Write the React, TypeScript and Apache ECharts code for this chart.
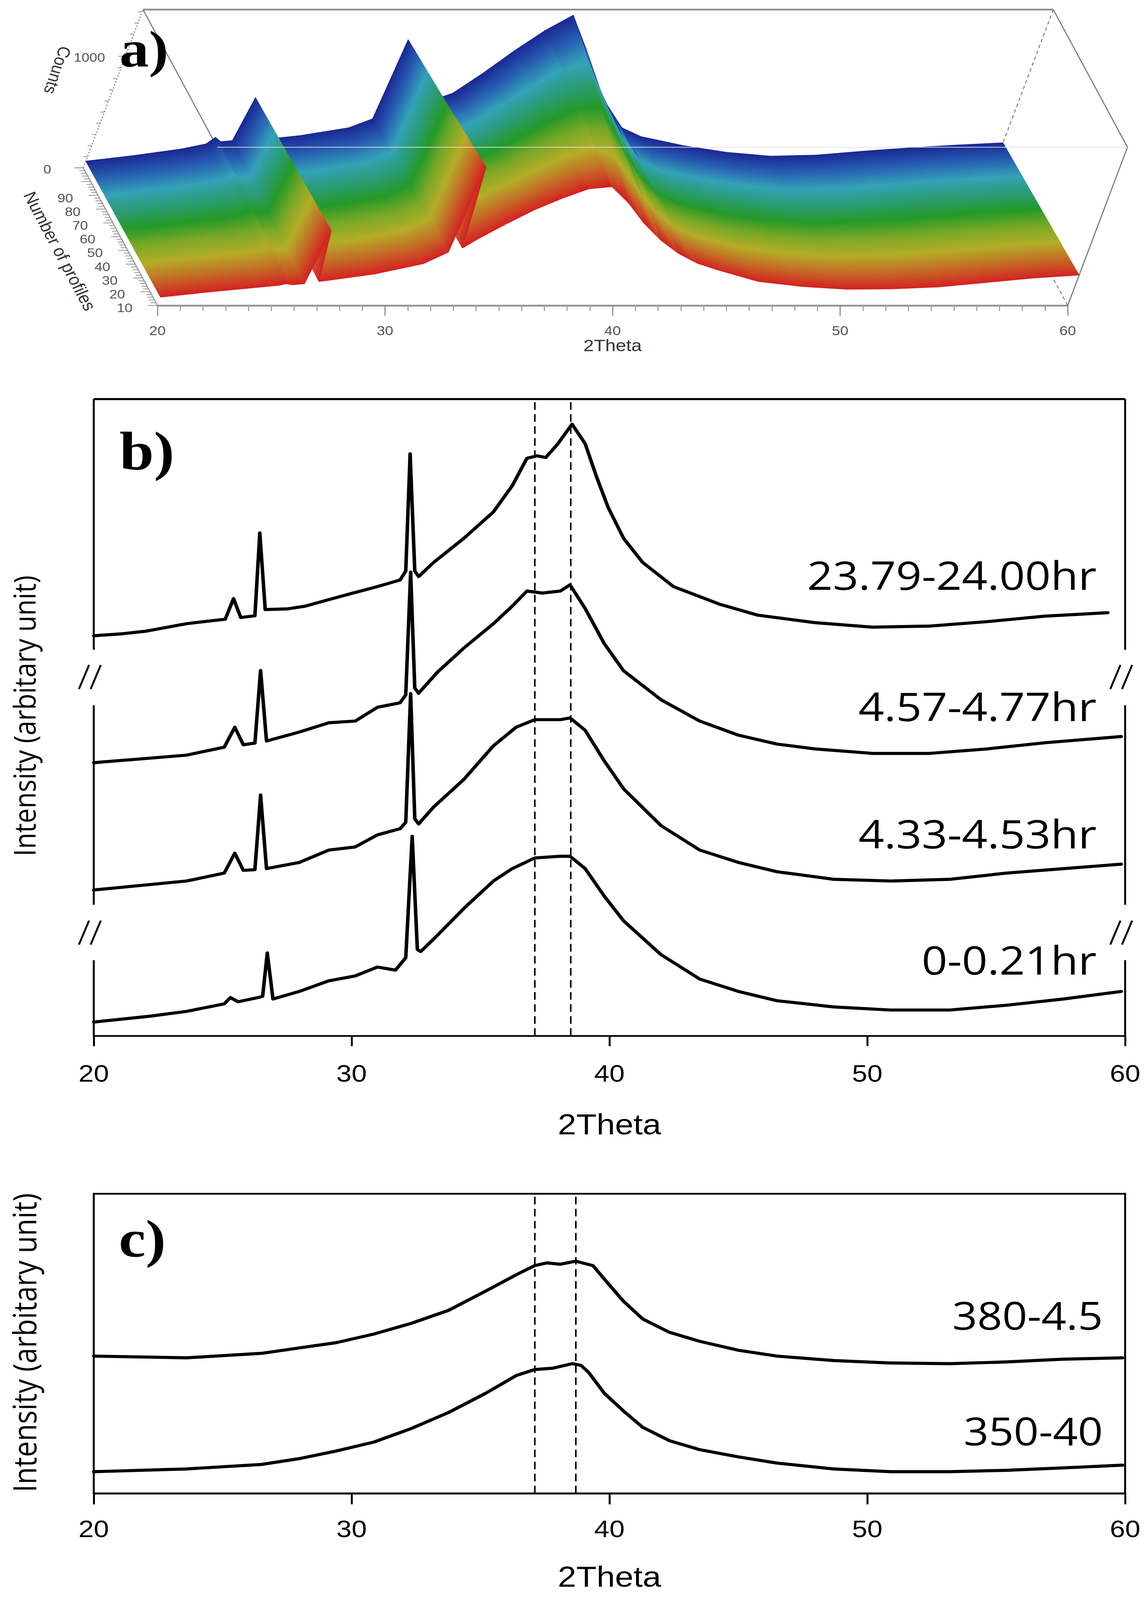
import React, { useEffect, useRef } from "react";
import * as echarts from "echarts";

const PAGE_W = 2936;
const PAGE_H = 4651;

/* ---------------- Panel a : stacked profiles (3-D view) ---------------- */
const aTheta = [20, 22, 24, 25, 25.3, 25.6, 26.1, 26.4, 26.7, 27, 29, 31, 31.9, 32.15, 32.45, 33, 34, 35, 36, 37, 38, 39, 40, 41, 42, 43, 44, 46, 48, 50, 52, 54, 56, 58, 60];
const aProfiles = [110, 85, 60, 35, 10];
const aCountsP110 = [60, 110, 170, 215, 275, 235, 245, 630, 245, 245, 290, 360, 440, 1150, 470, 510, 590, 670, 850, 1050, 1230, 1370, 1100, 800, 560, 360, 280, 200, 140, 105, 115, 150, 180, 205, 225];
const aCountsP85 = [64, 112, 166, 207, 255, 222, 232, 640, 236, 238, 288, 364, 452, 1170, 482, 535, 630, 720, 880, 1050, 1200, 1260, 1020, 760, 540, 365, 290, 205, 148, 115, 125, 155, 186, 215, 236];
const aCountsP60 = [67, 115, 163, 198, 235, 210, 220, 650, 228, 232, 285, 368, 462, 1190, 492, 560, 670, 770, 910, 1045, 1150, 1150, 940, 710, 520, 372, 300, 208, 155, 125, 133, 158, 192, 225, 248];
const aCountsP35 = [70, 118, 161, 190, 215, 198, 208, 660, 222, 227, 283, 372, 470, 1215, 505, 580, 705, 815, 935, 1045, 1105, 1030, 840, 650, 495, 376, 310, 212, 162, 135, 140, 162, 198, 235, 260];
const aCountsP10 = [74, 120, 160, 180, 195, 185, 195, 670, 215, 222, 281, 375, 478, 1240, 515, 600, 735, 860, 960, 1045, 1065, 920, 740, 590, 470, 380, 320, 215, 170, 145, 148, 165, 205, 245, 272];
const aCounts = [aCountsP110, aCountsP85, aCountsP60, aCountsP35, aCountsP10];
const aProfileLabels = [10, 20, 30, 40, 50, 60, 70, 80, 90];
const aCountLabels = [0, 1000];
const A_T_MIN = 20;
const A_T_MAX = 60;
const A_P_MIN = 10;
const A_P_MAX = 110;
const A_C_MAX = 1420;

/* ---------------- Panel b ---------------- */
const bTheta24h = [20, 21, 22, 23.6, 24.5, 25.1, 25.42, 25.7, 26.25, 26.44, 26.65, 27.5, 28.2, 29.12, 30.0, 30.86, 31.88, 32.1, 32.27, 32.45, 32.6, 33.18, 34.35, 35.5, 36.23, 36.8, 37.2, 37.53, 38.0, 38.55, 39.06, 39.5, 39.95, 40.55, 41.29, 42.48, 44.26, 45.74, 47.97, 50.2, 52.42, 54.65, 56.9, 59.33];
const bInt24h = [1163, 1168, 1176, 1198, 1206, 1211, 1271, 1216, 1221, 1462, 1239, 1241, 1249, 1268, 1286, 1303, 1325, 1351, 1692, 1351, 1335, 1376, 1446, 1523, 1599, 1679, 1686, 1681, 1721, 1778, 1721, 1625, 1536, 1446, 1376, 1306, 1255, 1223, 1201, 1188, 1191, 1204, 1220, 1230];
const bTheta457 = [20, 22, 23.6, 25.06, 25.47, 25.8, 26.25, 26.47, 26.7, 27.97, 29.12, 30.14, 31.0, 31.88, 32.1, 32.29, 32.45, 32.6, 33.33, 34.35, 35.5, 36.23, 36.8, 37.4, 38.1, 38.47, 39.06, 39.8, 40.55, 42.0, 43.5, 45.0, 46.5, 47.97, 50.2, 52.42, 54.65, 56.9, 59.85];
const bInt457 = [794, 806, 816, 839, 897, 846, 851, 1062, 857, 883, 910, 915, 955, 968, 991, 1348, 1011, 996, 1057, 1127, 1198, 1249, 1293, 1287, 1293, 1311, 1242, 1140, 1061, 977, 915, 874, 848, 834, 821, 821, 834, 852, 870];
const bTheta433 = [20, 23.6, 25.06, 25.47, 25.8, 26.25, 26.47, 26.7, 27.97, 29.12, 30.14, 31.0, 31.88, 32.1, 32.29, 32.45, 32.6, 33.18, 34.35, 35.5, 36.38, 37.1, 38.1, 38.47, 39.06, 39.8, 40.55, 42.0, 43.5, 45.0, 46.5, 48.7, 50.9, 53.2, 55.4, 57.6, 59.85];
const bInt433 = [424, 450, 473, 531, 481, 483, 700, 486, 504, 540, 549, 584, 602, 621, 995, 631, 616, 665, 745, 843, 897, 919, 919, 924, 888, 799, 718, 611, 540, 504, 477, 455, 450, 455, 473, 486, 499];
const bTheta021 = [20, 22.17, 23.6, 25.06, 25.3, 25.6, 26.36, 26.55, 26.73, 26.95, 27.97, 29.12, 30.14, 31.0, 31.7, 32.1, 32.35, 32.55, 32.68, 33.18, 33.76, 34.35, 35.5, 36.23, 37.1, 38.1, 38.47, 39.06, 39.8, 40.55, 42.0, 43.5, 45.0, 46.5, 48.7, 50.9, 53.2, 55.4, 57.6, 59.85];
const bInt021 = [40, 57, 71, 93, 111, 99, 111, 115, 241, 107, 129, 160, 174, 200, 191, 227, 580, 251, 245, 281, 325, 370, 450, 486, 517, 522, 522, 486, 406, 334, 236, 165, 129, 102, 84, 75, 75, 89, 107, 129];
const bLabels = ["23.79-24.00hr", "4.57-4.77hr", "4.33-4.53hr", "0-0.21hr"];
const bDashed = [37.1, 38.5];
const B_Y_MAX = 1851;
const bAxisSegments = [[1122, 1851], [381, 961], [0, 220]];
const bBreaks = [1043, 300];

/* ---------------- Panel c ---------------- */
const cTheta380 = [20, 23.6, 26.5, 29.4, 30.86, 32.3, 33.76, 35.2, 36.4, 37.1, 37.58, 38.1, 38.69, 39.36, 39.95, 40.55, 41.29, 42.33, 43.5, 45.0, 46.5, 48.7, 50.9, 53.2, 55.4, 57.6, 59.9];
const cInt380 = [399, 394, 407, 438, 463, 494, 532, 588, 636, 662, 670, 666, 675, 662, 610, 558, 507, 468, 442, 416, 399, 386, 379, 377, 382, 390, 394];
const cTheta350 = [20, 23.6, 26.5, 27.97, 29.4, 30.86, 32.3, 33.76, 35.2, 36.4, 37.1, 37.82, 38.55, 38.9, 39.2, 39.8, 40.55, 41.29, 42.33, 43.5, 45.0, 46.5, 48.7, 50.9, 53.2, 55.4, 57.6, 59.9];
const cInt350 = [63, 71, 84, 101, 123, 149, 188, 235, 291, 343, 360, 364, 377, 372, 351, 291, 239, 192, 153, 127, 106, 88, 71, 63, 63, 67, 74, 82];
const cLabels = ["380-4.5", "350-40"];
const cDashed = [37.1, 38.7];
const C_Y_MAX = 871;

/* ---------------- helpers ---------------- */
const zip = (xs: number[], ys: number[]) => xs.map((x, i) => [x, ys[i]]);

// oblique projection of (2theta, profile, counts) onto panel a's axes
const A_KX = 0.00185;
const A_PX = -0.0326;
const A_PY = 12.35;
const projA = (api: any, t: number, p: number, c: number) =>
  api.coord([t + c * A_KX + (p - A_P_MIN) * A_PX, c + (p - A_P_MIN) * A_PY]);

const stripStops = [
  [
    { offset: 0, color: "#1a2894" },
    { offset: 0.5, color: "#275fb2" },
    { offset: 1, color: "#33a2b8" },
  ],
  [
    { offset: 0, color: "#33a2b8" },
    { offset: 0.5, color: "#2a9c74" },
    { offset: 1, color: "#249a28" },
  ],
  [
    { offset: 0, color: "#249a28" },
    { offset: 0.5, color: "#7aa826" },
    { offset: 1, color: "#b4ad28" },
  ],
  [
    { offset: 0, color: "#b4ad28" },
    { offset: 0.5, color: "#c46c26" },
    { offset: 1, color: "#d42222" },
  ],
];

const aBoxEdges = [
  [A_T_MIN, A_P_MAX, A_C_MAX, A_T_MAX, A_P_MAX, A_C_MAX, 0],
  [A_T_MIN, A_P_MAX, A_C_MAX, A_T_MIN, A_P_MIN, A_C_MAX, 1],
  [A_T_MAX, A_P_MAX, A_C_MAX, A_T_MAX, A_P_MIN, A_C_MAX, 1],
  [A_T_MAX, A_P_MIN, A_C_MAX, A_T_MAX, A_P_MIN, 0, 1],
  [A_T_MAX, A_P_MAX, A_C_MAX, A_T_MAX, A_P_MAX, 0, 2],
  [A_T_MAX, A_P_MAX, 0, A_T_MAX, A_P_MIN, 0, 2],
  [A_T_MIN, A_P_MAX, 0, A_T_MIN, A_P_MAX, A_C_MAX, 3],
  [A_T_MIN, A_P_MAX, 0, A_T_MIN, A_P_MIN, 0, 5],
];
const aFrontEdges = [[A_T_MIN, A_P_MIN, A_C_MAX, A_T_MAX, A_P_MIN, A_C_MAX, 4]];
const aEdgeStyles: any[] = [
  { color: "#8c8c8c", width: 5, dash: null },
  { color: "#7c7c7c", width: 3, dash: null },
  { color: "#7c7c7c", width: 2.5, dash: [10, 8] },
  { color: "#8a8a8a", width: 3, dash: [4, 5] },
  { color: "#e2e2e2", width: 2, dash: null },
  { color: "#9a9a9a", width: 3, dash: null },
];

const edgeRender = (edges: number[][]) => (params: any, api: any) => {
  const e = edges[api.value(0)];
  const p1 = projA(api, e[0], e[1], e[2]);
  const p2 = projA(api, e[3], e[4], e[5]);
  const st = aEdgeStyles[e[6]];
  return {
    type: "line",
    shape: { x1: p1[0], y1: p1[1], x2: p2[0], y2: p2[1] },
    style: { stroke: st.color, lineWidth: st.width, lineDash: st.dash },
  };
};

function buildOption() {
  const surfaceItems: number[][] = [];
  for (let k = 0; k < aProfiles.length - 1; k++) {
    for (let j = aTheta.length - 2; j >= 0; j--) surfaceItems.push([k, j]);
  }
  const aTickItems: number[][] = [];
  for (let c = 0; c <= 1400; c += 100) aTickItems.push([0, c, c % 1000 === 0 ? 1 : 0]);
  for (let p = A_P_MIN; p <= A_P_MAX; p += 2) aTickItems.push([1, p, p % 10 === 0 ? 1 : 0]);
  const aLabelItems: number[][] = [
    ...aProfileLabels.map((p) => [1, p]),
    ...aCountLabels.map((c) => [0, c]),
  ];

  const bFrameItems: number[][] = [
    ...bAxisSegments.map((s) => [0, s[0], s[1]]),
    ...bAxisSegments.map((s) => [1, s[0], s[1]]),
    [2, B_Y_MAX, B_Y_MAX],
    ...bBreaks.map((v) => [3, v, 0]),
    ...bBreaks.map((v) => [4, v, 0]),
  ];

  const curveStyle = { color: "#000", width: 9, join: "round", cap: "round" };
  const lineSeries = (xi: number, data: number[][], extra: any = {}) => ({
    type: "line",
    xAxisIndex: xi,
    yAxisIndex: xi,
    data,
    showSymbol: false,
    symbol: "none",
    silent: true,
    z: 4,
    lineStyle: curveStyle,
    ...extra,
  });
  const dashedMark = (vals: number[]) => ({
    markLine: {
      silent: true,
      symbol: ["none", "none"],
      label: { show: false },
      lineStyle: { type: [22, 13], color: "#000", width: 4 },
      data: vals.map((v) => ({ xAxis: v })),
    },
  });

  const labelFont = '"Liberation Sans", Arial, sans-serif';
  const openSans = '"Open Sans", "Noto Sans", sans-serif';
  const serif = '"Liberation Serif", "Times New Roman", serif';

  const txt = (text: string, x: number, y: number, size: number, family: string, opts: any = {}) => ({
    type: "text",
    x,
    y,
    rotation: opts.rotation || 0,
    z: 100,
    silent: true,
    style: {
      text,
      fill: opts.fill || "#000",
      fontSize: size,
      fontFamily: family,
      fontWeight: opts.weight || "normal",
      align: opts.align || "left",
      verticalAlign: "middle",
      textAlign: opts.align || "left",
      textVerticalAlign: "middle",
    },
  });

  const bLabelY = [1670, 2051, 2422, 2788];
  const cLabelY = [3822, 4158];

  return {
    animation: false,
    backgroundColor: "#ffffff",
    grid: [
      { left: 403, right: PAGE_W - 2733, top: 888 - 2700 * 0.324, bottom: PAGE_H - 888, outerBoundsMode: "none" },
      { left: 240, right: 56, top: 1160, bottom: PAGE_H - 3011, outerBoundsMode: "none" },
      {
        left: 240,
        right: 56,
        top: 3470,
        bottom: PAGE_H - 4341,
        show: true,
        borderColor: "#000",
        borderWidth: 5,
        backgroundColor: "transparent",
        outerBoundsMode: "none",
      },
    ],
    xAxis: [
      {
        gridIndex: 0,
        type: "value",
        min: A_T_MIN,
        max: A_T_MAX,
        interval: 10,
        axisLine: { lineStyle: { color: "#8e8e8e", width: 5 } },
        axisTick: { show: true, inside: false, length: 30, lineStyle: { color: "#8e8e8e", width: 3 } },
        minorTick: { show: true, splitNumber: 10, length: 16, lineStyle: { color: "#a2a2a2", width: 3 } },
        splitLine: { show: false },
        minorSplitLine: { show: false },
        axisLabel: { fontSize: 38, color: "#555", fontFamily: labelFont, margin: 54 },
        name: "2Theta",
        nameLocation: "middle",
        nameGap: 90,
        nameTextStyle: { fontSize: 48, color: "#333", fontFamily: labelFont },
      },
      {
        gridIndex: 1,
        type: "value",
        min: 20,
        max: 60,
        interval: 10,
        axisLine: { onZero: false, lineStyle: { color: "#000", width: 5 } },
        axisTick: { show: true, inside: false, length: 30, lineStyle: { color: "#000", width: 5 } },
        splitLine: { show: false },
        axisLabel: { fontSize: 70, color: "#000", fontFamily: labelFont, margin: 74 },
        name: "2Theta",
        nameLocation: "middle",
        nameGap: 215,
        nameTextStyle: { fontSize: 85, color: "#000", fontFamily: labelFont },
      },
      {
        gridIndex: 2,
        type: "value",
        min: 20,
        max: 60,
        interval: 10,
        axisLine: { onZero: false, lineStyle: { color: "#000", width: 5 } },
        axisTick: { show: true, inside: false, length: 32, lineStyle: { color: "#000", width: 5 } },
        splitLine: { show: false },
        axisLabel: { fontSize: 70, color: "#000", fontFamily: labelFont, margin: 68 },
        name: "2Theta",
        nameLocation: "middle",
        nameGap: 200,
        nameTextStyle: { fontSize: 85, color: "#000", fontFamily: labelFont },
      },
    ],
    yAxis: [
      { gridIndex: 0, type: "value", min: 0, max: 2700, show: false },
      { gridIndex: 1, type: "value", min: 0, max: B_Y_MAX, show: false },
      { gridIndex: 2, type: "value", min: 0, max: C_Y_MAX, show: false },
    ],
    series: [
      {
        type: "custom",
        name: "a-box",
        xAxisIndex: 0,
        yAxisIndex: 0,
        z: 1,
        silent: true,
        data: aBoxEdges.map((_, i) => [i, 0]),
        renderItem: edgeRender(aBoxEdges),
      },
      {
        type: "custom",
        name: "a-ticks",
        xAxisIndex: 0,
        yAxisIndex: 0,
        z: 1,
        silent: true,
        data: aTickItems,
        renderItem: (params: any, api: any) => {
          const kind = api.value(0);
          const v = api.value(1);
          const major = api.value(2) === 1;
          const base = kind === 0 ? projA(api, A_T_MIN, A_P_MAX, v) : projA(api, A_T_MIN, v, 0);
          const len = kind === 0 ? (major ? 18 : 10) : major ? 24 : 14;
          return {
            type: "line",
            shape: { x1: base[0], y1: base[1], x2: base[0] - len, y2: base[1] },
            style: { stroke: "#9a9a9a", lineWidth: 2.5 },
          };
        },
      },
      {
        type: "custom",
        name: "a-labels",
        xAxisIndex: 0,
        yAxisIndex: 0,
        z: 1,
        silent: true,
        data: aLabelItems,
        renderItem: (params: any, api: any) => {
          const kind = api.value(0);
          const v = api.value(1);
          const base = kind === 0 ? projA(api, A_T_MIN, A_P_MAX, v) : projA(api, A_T_MIN, v, 0);
          const off = kind === 0 ? [-92, 3] : [-84, 7];
          return {
            type: "text",
            x: base[0] + off[0],
            y: base[1] + off[1],
            style: {
              text: String(v),
              fill: "#555",
              fontSize: 36,
              fontFamily: labelFont,
              align: "center",
              verticalAlign: "middle",
              textAlign: "center",
              textVerticalAlign: "middle",
            },
          };
        },
      },
      {
        type: "custom",
        name: "a-surface",
        xAxisIndex: 0,
        yAxisIndex: 0,
        z: 2,
        silent: true,
        data: surfaceItems,
        renderItem: (params: any, api: any) => {
          const k = api.value(0);
          const j = api.value(1);
          const pB = aProfiles[k];
          const pF = aProfiles[k + 1];
          const A = projA(api, aTheta[j], pB, aCounts[k][j]);
          const B = projA(api, aTheta[j + 1], pB, aCounts[k][j + 1]);
          const C = projA(api, aTheta[j + 1], pF, aCounts[k + 1][j + 1]);
          const D = projA(api, aTheta[j], pF, aCounts[k + 1][j]);
          let ux = B[0] - A[0];
          let uy = B[1] - A[1];
          const len = Math.hypot(ux, uy) || 1;
          ux /= len;
          uy /= len;
          let nx = -uy;
          let ny = ux;
          const mx = (C[0] + D[0]) / 2 - (A[0] + B[0]) / 2;
          const my = (C[1] + D[1]) / 2 - (A[1] + B[1]) / 2;
          let d = mx * nx + my * ny;
          if (d < 0) {
            nx = -nx;
            ny = -ny;
            d = -d;
          }
          if (d < 1) d = 1;
          const sx = (A[0] + B[0]) / 2;
          const sy = (A[1] + B[1]) / 2;
          const grad = new echarts.graphic.LinearGradient(sx, sy, sx + nx * d, sy + ny * d, stripStops[k], true);
          return {
            type: "polygon",
            z2: params.dataIndex,
            shape: { points: [A, B, C, D] },
            style: { fill: grad, stroke: grad, lineWidth: 1.5, lineJoin: "round" },
          };
        },
      },
      {
        type: "custom",
        name: "a-front",
        xAxisIndex: 0,
        yAxisIndex: 0,
        z: 3,
        silent: true,
        data: aFrontEdges.map((_, i) => [i, 0]),
        renderItem: edgeRender(aFrontEdges),
      },
      lineSeries(1, zip(bTheta24h, bInt24h), dashedMark(bDashed)),
      lineSeries(1, zip(bTheta457, bInt457)),
      lineSeries(1, zip(bTheta433, bInt433)),
      lineSeries(1, zip(bTheta021, bInt021)),
      {
        type: "custom",
        name: "b-frame",
        xAxisIndex: 1,
        yAxisIndex: 1,
        z: 5,
        silent: true,
        data: bFrameItems,
        renderItem: (params: any, api: any) => {
          const kind = api.value(0);
          const v1 = api.value(1);
          const v2 = api.value(2);
          const st = { stroke: "#000", lineWidth: 5 };
          if (kind <= 1) {
            const x = kind === 0 ? 20 : 60;
            const p1 = api.coord([x, v1]);
            const p2 = api.coord([x, v2]);
            return { type: "line", shape: { x1: p1[0], y1: p1[1], x2: p2[0], y2: p2[1] }, style: st };
          }
          if (kind === 2) {
            const p1 = api.coord([20, v1]);
            const p2 = api.coord([60, v1]);
            return { type: "line", shape: { x1: p1[0], y1: p1[1], x2: p2[0], y2: p2[1] }, style: { stroke: "#000", lineWidth: 6 } };
          }
          const c = api.coord([kind === 3 ? 20 : 60, v1]);
          const cx = c[0] - 9;
          const cy = c[1];
          return {
            type: "group",
            children: [
              { type: "line", shape: { x1: cx - 29, y1: cy + 35, x2: cx - 3, y2: cy - 35 }, style: st },
              { type: "line", shape: { x1: cx + 1, y1: cy + 35, x2: cx + 27, y2: cy - 35 }, style: st },
            ],
          };
        },
      },
      lineSeries(2, zip(cTheta380, cInt380), dashedMark(cDashed)),
      lineSeries(2, zip(cTheta350, cInt350)),
    ],
    graphic: [
      txt("a)", 306, 143, 150, serif, { weight: "bold" }),
      txt("b)", 306, 1311, 158, serif, { weight: "bold" }),
      txt("c)", 304, 3601, 155, serif, { weight: "bold" }),
      txt("Counts", 147, 204, 45, labelFont, { align: "center", rotation: -1.867, fill: "#333" }),
      txt("Number of profiles", 153, 730, 46, labelFont, { align: "center", rotation: -1.133, fill: "#333" }),
      txt("Intensity (arbitary unit)", 61, 2081, 77, openSans, { align: "center", rotation: Math.PI / 2 }),
      txt("Intensity (arbitary unit)", 61, 3903, 82, openSans, { align: "center", rotation: Math.PI / 2 }),
      ...bLabels.map((s, i) => txt(s, 2807, bLabelY[i], 115, openSans, { align: "right" })),
      ...cLabels.map((s, i) => txt(s, 2823, cLabelY[i], 112, openSans, { align: "right" })),
    ],
  };
}

export default function App() {
  const ref = useRef<HTMLDivElement>(null);
  // the browser's viewport may be shorter than the figure: fit the figure's height into it
  const vh = typeof window !== "undefined" && window.innerHeight > 0 ? window.innerHeight : PAGE_H;
  const fit = Math.min(1, vh / PAGE_H);
  useEffect(() => {
    if (!ref.current) return;
    document.documentElement.style.overflow = "hidden";
    document.body.style.overflow = "hidden";
    const chart = echarts.init(ref.current, null, { renderer: "svg" });
    chart.setOption(buildOption() as any);
    return () => chart.dispose();
  }, []);
  return (
    <div
      ref={ref}
      style={{
        position: "absolute",
        left: 0,
        top: 0,
        width: PAGE_W,
        height: PAGE_H,
        background: "#fff",
        transform: fit < 1 ? `scale(1, ${fit})` : undefined,
        transformOrigin: "0 0",
      }}
    />
  );
}
